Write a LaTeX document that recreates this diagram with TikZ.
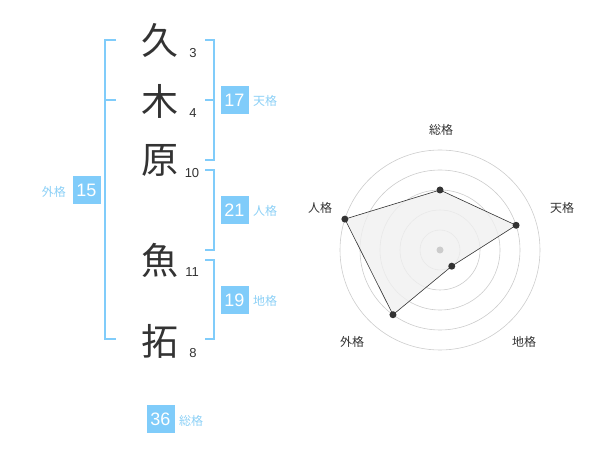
\documentclass[tikz,border=0pt]{standalone}
\usepackage{fontspec}
\setmainfont{Liberation Sans}
\newfontfamily\cjk{Noto Sans CJK JP}
\definecolor{sky}{RGB}{128,204,250}
\definecolor{skytext}{RGB}{140,208,246}
\definecolor{ink}{RGB}{51,51,51}
\definecolor{ring}{RGB}{204,204,204}
\definecolor{area}{RGB}{240,240,240}
\begin{document}
\begin{tikzpicture}[x=1pt,y=-1pt,
  kanji/.style={font=\cjk\fontsize{37}{37}\selectfont,text=ink,inner sep=0pt},
  strokes/.style={font=\fontsize{13}{13}\selectfont,text=ink,inner sep=0pt},
  valbox/.style={fill=sky,text=white,minimum width=28pt,minimum height=28pt,inner sep=0pt,font=\fontsize{18}{18}\selectfont},
  kaku/.style={font=\cjk\fontsize{12}{12}\selectfont,text=skytext,inner sep=0pt},
  bracket/.style={draw=sky,line width=2pt},
  axislabel/.style={font=\cjk\fontsize{12}{12}\selectfont,text=ink,inner sep=0pt},
  vdot/.style={circle,fill=ink,inner sep=0pt,minimum size=7pt},
]
\useasboundingbox (0,0) rectangle (600,470);
% characters
\node[kanji] (c1) at (160,40) {久};
\node[kanji] (c2) at (160,101) {木};
\node[kanji] (c3) at (160,160) {原};
\node[kanji] (c4) at (160,260) {魚};
\node[kanji] (c5) at (160,341) {拓};
\node[strokes] (n1) at (193,53) {3};
\node[strokes] (n2) at (193,113) {4};
\node[strokes] (n3) at (192,173) {10};
\node[strokes] (n4) at (192,272) {11};
\node[strokes] (n5) at (193,353) {8};
% left bracket (gaikaku)
\coordinate (lt) at (116,40);
\coordinate (lm) at (116,100);
\coordinate (lb) at (116,339);
\draw[bracket] (lt) -- (105,40) -- (105,339) -- (lb);
\draw[bracket] (105,100) -- (lm);
% right brackets
\draw[bracket] (205,40) -- (214,40) -- (214,160) -- (205,160);
\draw[bracket] (205,100) -- (214,100);
\draw[bracket] (205,170) -- (214,170) -- (214,250) -- (205,250);
\draw[bracket] (205,260) -- (214,260) -- (214,339) -- (205,339);
% value boxes
\node[valbox] (ten) at (234.5,100) {17};
\node[kaku,anchor=west] (tenl) at (253,101) {天格};
\node[valbox] (jin) at (234.5,210) {21};
\node[kaku,anchor=west] (jinl) at (253,211) {人格};
\node[valbox] (chi) at (234.5,300) {19};
\node[kaku,anchor=west] (chil) at (253,301) {地格};
\node[valbox] (gai) at (86.5,190) {15};
\node[kaku,anchor=east] (gail) at (66,192) {外格};
\node[valbox] (sou) at (160.5,419) {36};
\node[kaku,anchor=west] (soul) at (179,421) {総格};
% radar
\foreach \r in {20,40,60,80,100} \draw[ring,line width=0.6pt] (440,250) circle (\r);
\coordinate (pS) at (440,190);
\coordinate (pT) at ({440+80*cos(18)},{250-80*sin(18)});
\coordinate (pC) at ({440+20*cos(54)},{250+20*sin(54)});
\coordinate (pG) at ({440-80*cos(54)},{250+80*sin(54)});
\coordinate (pJ) at ({440-100*cos(18)},{250-100*sin(18)});
\draw[fill=area,fill opacity=0.8,draw=ink,line width=0.6pt] (pS) -- (pT) -- (pC) -- (pG) -- (pJ) -- cycle;
\node[circle,fill=ring,inner sep=0pt,minimum size=7pt] (ctr) at (440,250) {};
\foreach \p in {pS,pT,pC,pG,pJ} \node[vdot] at (\p) {};
\node[axislabel] (aS) at (441,130) {総格};
\node[axislabel] (aT) at (562,208) {天格};
\node[axislabel] (aC) at (524,342) {地格};
\node[axislabel] (aG) at (352,342) {外格};
\node[axislabel] (aJ) at (320,208) {人格};
\end{tikzpicture}
\end{document}
